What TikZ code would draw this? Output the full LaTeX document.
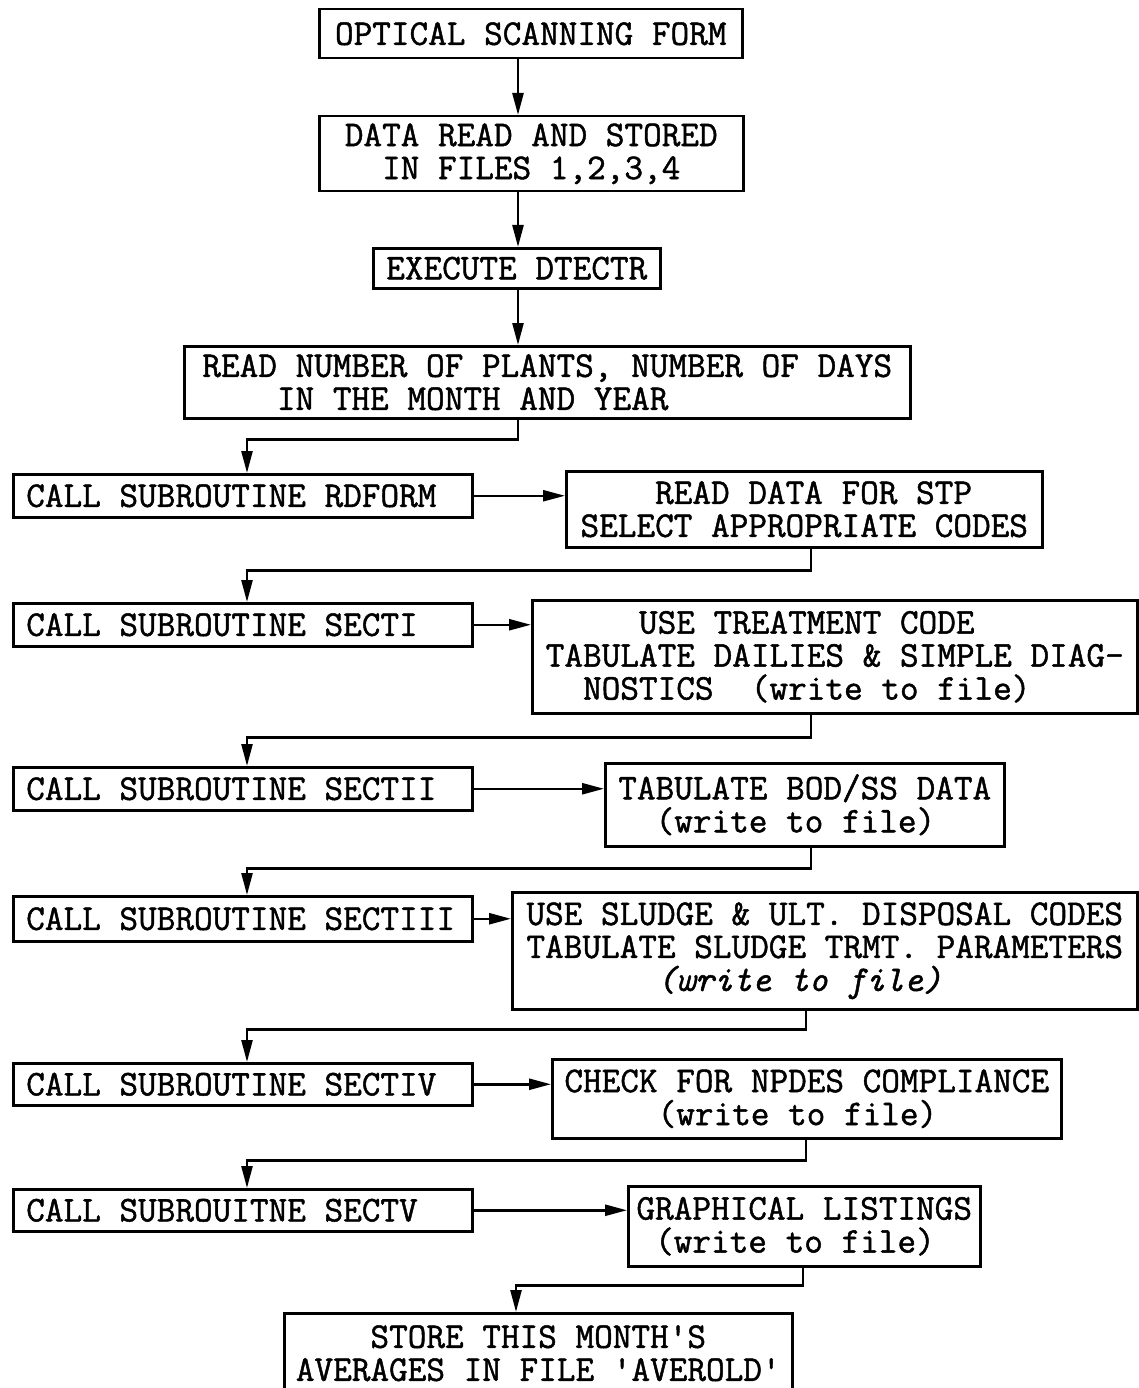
\documentclass[tikz,border=0pt]{standalone}
\usepackage{fontspec}
\newfontfamily\twfont{Latin Modern Mono}[FakeBold=1.3]
\usetikzlibrary{arrows.meta}
\begin{document}
\begin{tikzpicture}[x=1pt,y=-1pt,
  box/.style={draw, line width=2.5pt, inner sep=0pt, anchor=north west,
    font=\twfont\fontsize{36.2}{33}\selectfont, align=center},
  lbox/.style={box, align=left},
  callbox/.style={box, align=flush left, inner xsep=13pt, text width=433pt, minimum width=459pt},
  arr/.style={line width=2.5pt, -{Triangle[length=22pt,width=11pt]}},
]
\useasboundingbox (0,0) rectangle (1138,1388);
\coordinate (xa) at (518,0);
\coordinate (xl) at (247,0);
\coordinate (xr1) at (811,0);
\coordinate (xr2) at (806,0);
\coordinate (xr3) at (803,0);
\coordinate (xs) at (516,0);

\node[box, minimum width=423pt, minimum height=49pt] (b1) at (318,8) {OPTICAL SCANNING FORM};
\node[box, minimum width=424pt, minimum height=75pt] (b2) at (318,115) {DATA READ AND STORED\\IN FILES 1,2,3,4};
\node[box, minimum width=287pt, minimum height=40pt] (b3) at (372,247) {EXECUTE DTECTR};
\node[lbox, minimum width=726pt, minimum height=72pt] (b4) at (183,345) {READ NUMBER OF PLANTS, NUMBER OF DAYS\\\phantom{XXXX}IN THE MONTH AND YEAR};
\node[callbox, minimum height=43pt] (b5) at (12,473) {CALL SUBROUTINE RDFORM};
\node[lbox, minimum width=476pt, minimum height=76pt] (b6) at (565,470) {\phantom{XXXX}READ DATA FOR STP\\SELECT APPROPRIATE CODES};
\node[callbox, minimum height=43pt] (b7) at (12,602) {CALL SUBROUTINE SECTI};
\node[lbox, minimum width=605pt, minimum height=113pt] (b8) at (531,599) {\phantom{XXXXX}USE TREATMENT CODE\\TABULATE DAILIES \& SIMPLE DIAG-\\\phantom{XX}NOSTICS~~(write to file)};
\node[callbox, minimum height=43pt] (b9) at (12,766) {CALL SUBROUTINE SECTII};
\node[lbox, minimum width=399pt, minimum height=83pt] (b10) at (604,762) {TABULATE BOD/SS DATA\\\phantom{XX}(write to file)};
\node[callbox, minimum height=45pt] (b11) at (12,895) {CALL SUBROUTINE SECTIII};
\node[lbox, minimum width=625pt, minimum height=117pt] (b12) at (511,891) {USE SLUDGE \& ULT. DISPOSAL CODES\\TABULATE SLUDGE TRMT. PARAMETERS\\\phantom{XXXXXXX}\textit{(write to file)}};
\node[callbox, minimum height=42pt] (b13) at (12,1062) {CALL SUBROUTINE SECTIV};
\node[lbox, minimum width=509pt, minimum height=79pt] (b14) at (551,1058) {CHECK FOR NPDES COMPLIANCE\\\phantom{XXXXX}(write to file)};
\node[callbox, minimum height=42pt] (b15) at (12,1188) {CALL SUBROUITNE SECTV};
\node[lbox, minimum width=352pt, minimum height=80pt] (b16) at (627,1185) {GRAPHICAL LISTINGS\\\phantom{X}(write to file)};
\node[lbox, minimum width=508pt, minimum height=80pt] (b17) at (283,1312) {\phantom{XXXX}STORE THIS MONTH'S\\AVERAGES IN FILE 'AVEROLD'};

\draw[arr] (b1.south -| xa) -- (b2.north -| xa);
\draw[arr] (b2.south -| xa) -- (b3.north -| xa);
\draw[arr] (b3.south -| xa) -- (b4.north -| xa);
\draw[arr] (b4.south -| xa) -- ++(0,20) -| (b5.north -| xl);
\draw[arr] (b5.east) -- (b5.east -| b6.west);
\draw[arr] (b6.south -| xr1) -- ++(0,22) -| (b7.north -| xl);
\draw[arr] (b7.east) -- (b7.east -| b8.west);
\draw[arr] (b8.south -| xr1) -- ++(0,23) -| (b9.north -| xl);
\draw[arr] (b9.east) -- (b9.east -| b10.west);
\draw[arr] (b10.south -| xr1) -- ++(0,21) -| (b11.north -| xl);
\draw[arr] (b11.east) -- (b11.east -| b12.west);
\draw[arr] (b12.south -| xr2) -- ++(0,19) -| (b13.north -| xl);
\draw[arr] (b13.east) -- (b13.east -| b14.west);
\draw[arr] (b14.south -| xr2) -- ++(0,21) -| (b15.north -| xl);
\draw[arr] (b15.east) -- (b15.east -| b16.west);
\draw[arr] (b16.south -| xr3) -- ++(0,18) -| (b17.north -| xs);
\end{tikzpicture}
\end{document}
